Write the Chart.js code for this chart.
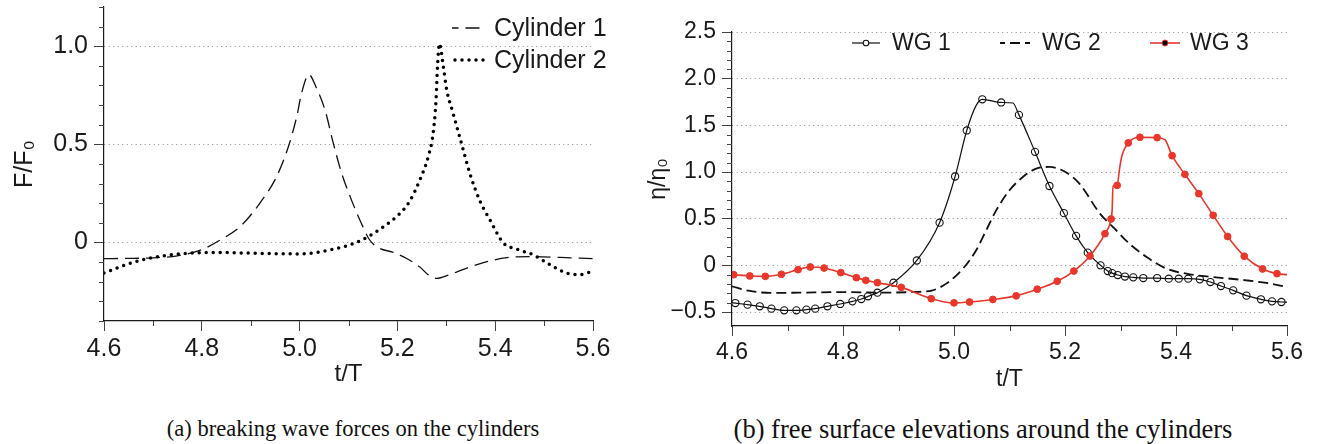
<!DOCTYPE html>
<html>
<head>
<meta charset="utf-8">
<script src="https://cdn.jsdelivr.net/npm/chart.js@4.4.1/dist/chart.umd.min.js"></script>
<style>
  body { margin: 0; background: #fff; }
  #wrap { position: relative; width: 1325px; height: 444px; overflow: hidden; }
  canvas { position: absolute; top: 0; }
  #forces { left: 0; }
  #surface { left: 640px; }
  .caption {
    position: absolute; line-height: 28px;
    font-family: 'Liberation Serif', 'Times New Roman', serif;
    color: #111; white-space: nowrap; transform: translateX(-50%);
  }
</style>
</head>
<body>
<div id="wrap">
  <canvas id="forces" width="640" height="400"></canvas>
  <canvas id="surface" width="685" height="400"></canvas>
  <div class="caption" style="left:353px; top:415px; font-size:22.5px">(a) breaking wave forces on the cylinders</div>
  <div class="caption" style="left:983px; top:415px; font-size:26.5px">(b) free surface elevations around the cylinders</div>
</div>
<script>
// (a) forces
const cyl1T = [4.60, 4.65, 4.70, 4.75, 4.80, 4.84, 4.88, 4.92, 4.953, 4.977, 4.994, 5.004, 5.019, 5.034, 5.052, 5.069, 5.086, 5.106, 5.126, 5.143, 5.163, 5.19, 5.218, 5.246, 5.263, 5.28, 5.307, 5.342, 5.383, 5.424, 5.478, 5.533, 5.60];
const cyl1F = [-0.082, -0.081, -0.078, -0.068, -0.036, 0.016, 0.085, 0.205, 0.336, 0.488, 0.64, 0.76, 0.855, 0.79, 0.675, 0.505, 0.353, 0.217, 0.099, 0.014, -0.029, -0.049, -0.08, -0.125, -0.164, -0.183, -0.164, -0.13, -0.098, -0.077, -0.072, -0.076, -0.082];

const cyl2T = [4.60, 4.645, 4.693, 4.761, 4.83, 4.93, 5.00, 5.035, 5.069, 5.103, 5.138, 5.172, 5.206, 5.225, 5.246, 5.263, 5.273, 5.279, 5.282, 5.286, 5.294, 5.301, 5.314, 5.331, 5.348, 5.369, 5.39, 5.417, 5.444, 5.478, 5.512, 5.546, 5.573, 5.60];
const cyl2F = [-0.156, -0.113, -0.08, -0.057, -0.051, -0.056, -0.058, -0.051, -0.034, -0.012, 0.027, 0.081, 0.15, 0.21, 0.319, 0.437, 0.556, 0.725, 0.895, 1.013, 0.895, 0.776, 0.658, 0.505, 0.353, 0.21, 0.112, -0.003, -0.034, -0.063, -0.113, -0.156, -0.164, -0.145];

// (b) surface elevations: marker points and extra points of the traced lines
const wg1MarkT = [4.606, 4.628, 4.650, 4.671, 4.694, 4.716, 4.734, 4.750, 4.772, 4.795, 4.817, 4.833, 4.845, 4.862, 4.891, 4.933, 4.974, 5.002, 5.023, 5.051, 5.085, 5.117, 5.146, 5.172, 5.198, 5.220, 5.241, 5.264, 5.277, 5.285, 5.295, 5.308, 5.323, 5.341, 5.366, 5.387, 5.405, 5.422, 5.443, 5.462, 5.481, 5.503, 5.527, 5.553, 5.573, 5.590];
const wg1MarkEta = [-0.404, -0.421, -0.439, -0.464, -0.482, -0.482, -0.475, -0.464, -0.439, -0.414, -0.386, -0.361, -0.332, -0.293, -0.186, 0.052, 0.457, 0.952, 1.445, 1.779, 1.745, 1.612, 1.216, 0.850, 0.559, 0.316, 0.136, 0.0, -0.061, -0.084, -0.104, -0.12, -0.129, -0.136, -0.136, -0.143, -0.143, -0.143, -0.150, -0.179, -0.222, -0.268, -0.325, -0.364, -0.386, -0.393];
const wg1LineT = [4.60, 5.040, 5.106, 5.60];
const wg1LineEta = [-0.40, 1.714, 1.739, -0.395];

const wg2T = [4.60, 4.63, 4.67, 4.72, 4.80, 4.87, 4.93, 4.96, 4.986, 5.016, 5.04, 5.058, 5.076, 5.10, 5.124, 5.148, 5.172, 5.20, 5.226, 5.263, 5.29, 5.316, 5.347, 5.383, 5.425, 5.467, 5.527, 5.563, 5.60];
const wg2Eta = [-0.225, -0.272, -0.296, -0.293, -0.287, -0.292, -0.285, -0.270, -0.196, -0.036, 0.161, 0.375, 0.589, 0.804, 0.946, 1.036, 1.054, 1.002, 0.875, 0.554, 0.39, 0.232, 0.089, -0.036, -0.096, -0.125, -0.161, -0.189, -0.232];

const wg3MarkT = [4.603, 4.632, 4.660, 4.689, 4.719, 4.741, 4.766, 4.796, 4.824, 4.841, 4.862, 4.905, 4.959, 5.000, 5.028, 5.070, 5.112, 5.150, 5.186, 5.216, 5.245, 5.272, 5.283, 5.294, 5.314, 5.335, 5.366, 5.393, 5.416, 5.441, 5.467, 5.493, 5.523, 5.556, 5.582];
const wg3MarkEta = [-0.100, -0.114, -0.118, -0.096, -0.046, -0.018, -0.029, -0.078, -0.132, -0.161, -0.186, -0.236, -0.357, -0.402, -0.393, -0.366, -0.327, -0.256, -0.170, -0.061, 0.100, 0.339, 0.497, 0.857, 1.312, 1.372, 1.368, 1.175, 0.975, 0.768, 0.536, 0.309, 0.098, -0.039, -0.089];
const wg3LineT = [4.60, 5.285, 5.2865, 5.298, 5.302, 5.380, 5.60];
const wg3LineEta = [-0.098, 0.60, 0.85, 1.02, 1.16, 1.346, -0.10];

const FONT = "'Liberation Sans', Arial, sans-serif";
const INK = '#1a1a1a';
const RED = '#e9372b';

const near = (v, step) => Math.abs(v / step - Math.round(v / step)) < 1e-6;
const tickText = v => Math.abs(v) < 1e-9 ? '0' : (v < 0 ? '\u2212' : '') + Math.abs(v).toFixed(1);
const pts = (xs, ys) => xs.map((x, i) => ({ x, y: ys[i] }));
const merged = (a, b) => a.concat(b).sort((p, q) => p.x - q.x);

function xScale(height, pad, titlePad, size, titleSize) {
  return {
    type: 'linear', min: 4.6, max: 5.6,
    afterFit: s => { s.height = height; s.paddingLeft = 0; s.paddingRight = 0; },
    border: { color: INK, width: 1.2 },
    grid: {
      drawOnChartArea: false, tickLength: 10, tickWidth: 1,
      tickColor: c => c.tick && near(c.tick.value, 0.2) ? '#444' : 'rgba(0,0,0,0)'
    },
    ticks: {
      stepSize: 0.1, autoSkip: false, maxRotation: 0, padding: pad, color: INK,
      font: { family: FONT, size },
      callback: v => near(v, 0.2) ? v.toFixed(1) : ''
    },
    title: { display: true, text: 't/T', color: INK, font: { family: FONT, size: titleSize }, padding: { top: 0, bottom: titlePad } }
  };
}

function yScale(min, max, width, text, titlePad, size, titleSize) {
  return {
    min, max,
    afterFit: s => { s.width = width; s.paddingTop = 0; s.paddingBottom = 0; },
    border: { color: INK, width: 1.2, dash: [1, 3.5] },
    grid: {
      lineWidth: 1, tickLength: 10, tickWidth: 1,
      color: c => c.tick && near(c.tick.value, 0.5) ? '#8c8c8c' : 'rgba(0,0,0,0)',
      tickColor: c => c.tick && near(c.tick.value, 0.5) ? '#444' : 'rgba(0,0,0,0)'
    },
    ticks: {
      stepSize: 0.1, autoSkip: false, padding: 6, color: INK,
      font: { family: FONT, size },
      callback: v => near(v, 0.5) ? tickText(v) : ''
    },
    title: { display: true, text, color: INK, font: { family: FONT, size: titleSize }, padding: { top: titlePad, bottom: 0 } }
  };
}

// short unlabelled ticks every 0.1
const minorTicks = {
  id: 'minorTicks',
  afterDraw(chart) {
    const { ctx, scales: { x, y } } = chart;
    ctx.save();
    ctx.strokeStyle = '#444';
    ctx.lineWidth = 1;
    ctx.beginPath();
    x.ticks.forEach(t => {
      if (near(t.value, 0.1) && !near(t.value, 0.2)) {
        const p = Math.round(x.getPixelForValue(t.value)) + 0.5;
        ctx.moveTo(p, x.top); ctx.lineTo(p, x.top + 5);
      }
    });
    y.ticks.forEach(t => {
      if (near(t.value, 0.1) && !near(t.value, 0.5)) {
        const p = Math.round(y.getPixelForValue(t.value)) + 0.5;
        ctx.moveTo(y.right - 5, p); ctx.lineTo(y.right, p);
      }
    });
    ctx.stroke();
    ctx.restore();
  }
};

// legend drawn inside the plot, like the original
const insideKey = {
  id: 'insideKey',
  afterDraw(chart, args, opts) {
    const ctx = chart.ctx;
    (opts.entries || []).forEach(e => {
      const ds = chart.data.datasets[e.line];
      ctx.save();
      ctx.strokeStyle = ds.borderColor;
      ctx.lineWidth = ds.borderWidth;
      ctx.lineCap = ds.borderCapStyle || 'butt';
      ctx.setLineDash(ds.borderDash || []);
      ctx.lineDashOffset = e.dashOffset || 0;
      ctx.beginPath();
      ctx.moveTo(e.x, e.y);
      ctx.lineTo(e.x + e.w, e.y);
      ctx.stroke();
      ctx.restore();
      if (e.marker != null) {
        const m = chart.data.datasets[e.marker];
        ctx.save();
        ctx.beginPath();
        ctx.arc(e.x + e.w / 2, e.y, e.r, 0, Math.PI * 2);
        ctx.fillStyle = e.fill || m.pointBackgroundColor;
        ctx.fill();
        ctx.lineWidth = m.pointBorderWidth;
        ctx.strokeStyle = m.pointBorderColor;
        ctx.stroke();
        ctx.restore();
      }
      ctx.save();
      ctx.font = opts.size + 'px ' + FONT;
      ctx.fillStyle = INK;
      ctx.textBaseline = 'middle';
      ctx.fillText(ds.label, e.textX, e.y + 1);
      ctx.restore();
    });
  }
};

const common = {
  responsive: false,
  animation: false,
  devicePixelRatio: 1,
  events: [],
  elements: {
    point: { radius: 0 },
    line: { cubicInterpolationMode: 'monotone', fill: false }
  }
};

new Chart(document.getElementById('forces'), {
  type: 'line',
  data: {
    datasets: [
      { label: 'Cylinder 1', data: pts(cyl1T, cyl1F), borderColor: '#111', borderWidth: 1.3, borderDash: [14, 7], order: 2 },
      { label: 'Cylinder 2', data: pts(cyl2T, cyl2F), borderColor: '#000', borderWidth: 3.5, borderDash: [0, 7], borderCapStyle: 'round', order: 1 }
    ]
  },
  options: {
    ...common,
    layout: { padding: { top: 7, right: 47, bottom: 0, left: 0 } },
    scales: {
      x: xScale(79, 3, 11, 25, 24),
      y: yScale(-0.4, 1.2, 104, 'F/F\u2080', 10, 25, 25)
    },
    plugins: {
      legend: { display: false },
      tooltip: { enabled: false },
      insideKey: {
        size: 25,
        entries: [
          { line: 0, x: 452, w: 33, y: 28, dashOffset: 7.5, textX: 494 },
          { line: 1, x: 455, w: 28.5, y: 60, textX: 494 }
        ]
      }
    }
  },
  plugins: [minorTicks, insideKey]
});

new Chart(document.getElementById('surface'), {
  type: 'line',
  data: {
    datasets: [
      { label: 'WG 3', data: pts(wg3MarkT, wg3MarkEta), showLine: false, pointRadius: 3.4,
        pointBackgroundColor: RED, pointBorderColor: RED, pointBorderWidth: 1, order: 1 },
      { label: 'WG 3', data: merged(pts(wg3MarkT, wg3MarkEta), pts(wg3LineT, wg3LineEta)),
        borderColor: RED, borderWidth: 1.6, order: 2 },
      { label: 'WG 1', data: pts(wg1MarkT, wg1MarkEta), showLine: false, pointRadius: 3.6,
        pointBackgroundColor: 'rgba(255,255,255,0)', pointBorderColor: '#111', pointBorderWidth: 1.1, order: 3 },
      { label: 'WG 1', data: merged(pts(wg1MarkT, wg1MarkEta), pts(wg1LineT, wg1LineEta)),
        borderColor: '#111', borderWidth: 1.2, order: 4 },
      { label: 'WG 2', data: pts(wg2T, wg2Eta), borderColor: '#111', borderWidth: 1.8, borderDash: [10, 5], order: 5 }
    ]
  },
  options: {
    ...common,
    layout: { padding: { top: 32, right: 38, bottom: 0, left: 0 } },
    scales: {
      x: xScale(74, 3, 7, 23, 23),
      y: yScale(-0.65, 2.5, 92, '\u03b7/\u03b7\u2080', 5, 23, 23)
    },
    plugins: {
      legend: { display: false },
      tooltip: { enabled: false },
      insideKey: {
        size: 23,
        entries: [
          { line: 3, marker: 2, r: 2.8, fill: '#fff', x: 212, w: 28, y: 43, textX: 252 },
          { line: 4, x: 360, w: 30, y: 43, dashOffset: 5, textX: 402 },
          { line: 1, marker: 0, r: 3, x: 510, w: 30, y: 43, textX: 550 }
        ]
      }
    }
  },
  plugins: [minorTicks, insideKey]
});
</script>
</body>
</html>
